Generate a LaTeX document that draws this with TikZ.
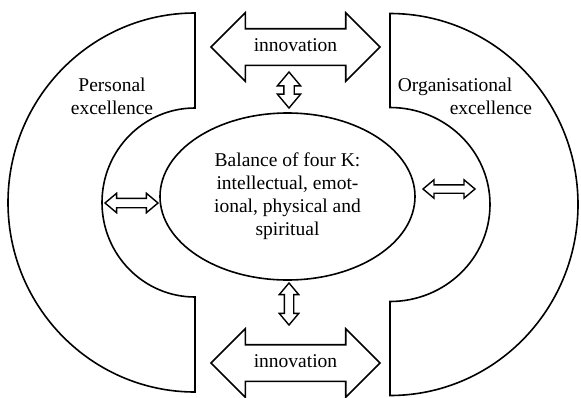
\documentclass[tikz,border=0pt]{standalone}
\usepackage{fontspec}
\setmainfont{Liberation Serif}
\usetikzlibrary{shapes.geometric,shapes.arrows}

\begin{document}
\begin{tikzpicture}[x=1pt,y=-1pt,line width=1.6pt,
  bigarrow/.style={draw,shape=double arrow,double arrow tip angle=90,
    minimum height=169pt,double arrow head extend=16pt,inner ysep=9pt,
    text height=13pt,text depth=4pt},
  smallarrow/.style={draw,shape=double arrow,double arrow tip angle=80,
    inner sep=4pt,double arrow head extend=5pt,line width=1.4pt},
  txt/.style={inner sep=0pt}]
\fontsize{19.5}{23}\selectfont
\useasboundingbox (0,0) rectangle (581,397);

% the two half rings
\draw (195,13) arc[start angle=270,end angle=90,x radius=187,y radius=189.5] -- (195,297)
  arc[start angle=90,end angle=270,x radius=93,y radius=94.5] -- cycle;
\draw (390,13.5) arc[start angle=270,end angle=450,x radius=188,y radius=191] -- (390,301.5)
  arc[start angle=90,end angle=-90,x radius=100,y radius=97] -- cycle;

\node [txt,align=center] (pers) at (112,96) {Personal\\excellence};
\node [txt,align=left,anchor=west] (org) at (397,96) {Organisational\\\hspace*{52pt}excellence};

% centre
\node [draw,ellipse,minimum width=255pt,minimum height=167pt,align=center,inner sep=0pt] (bal) at (287.5,196.5)
  {Balance of four K:\\intellectual, emot-\\ional, physical and\\spiritual};

\node [bigarrow] (innovT) at (295.5,47) {innovation};
\node [bigarrow] (innovB) at (295.5,363) {innovation};

\node [smallarrow,rotate=90,minimum height=36pt,inner sep=4.5pt,double arrow head extend=6.5pt] (topS) at (289,90) {};
\node [smallarrow,rotate=90,minimum height=42pt] (botS) at (289,304) {};
\node [smallarrow,minimum height=53pt] (leftS) at (131.5,203) {};
\node [smallarrow,minimum height=52pt,inner sep=3.5pt] (rightS) at (449,189) {};

\end{tikzpicture}
\end{document}
